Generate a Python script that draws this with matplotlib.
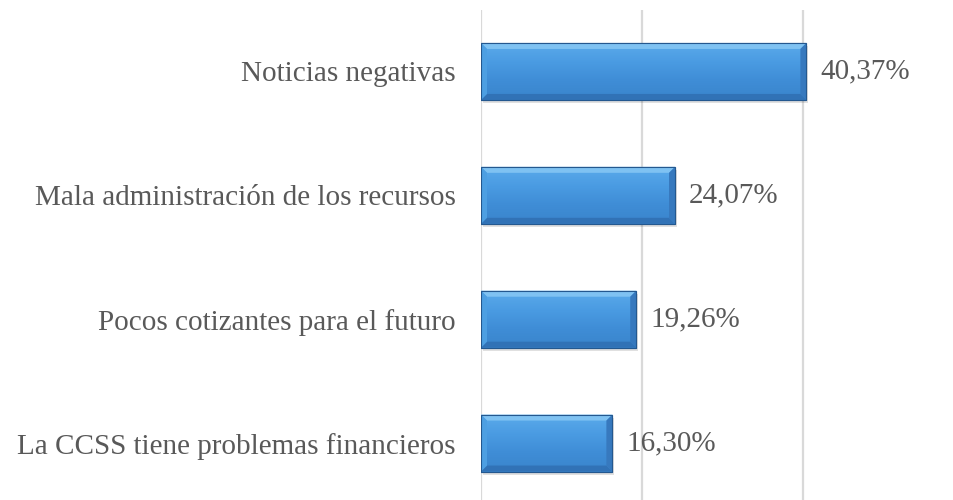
import numpy as np
import matplotlib.pyplot as plt
from matplotlib.patches import Polygon, Rectangle

# datos (orden de arriba hacia abajo)
categorias = [
    "Noticias negativas",
    "Mala administración de los recursos",
    "Pocos cotizantes para el futuro",
    "La CCSS tiene problemas financieros",
]
valores = [40.37, 24.07, 19.26, 16.30]

plt.rcParams['font.family'] = ['Liberation Serif', 'DejaVu Serif']
gris_texto = '#595959'

fig = plt.figure(figsize=(9.54, 5.0), dpi=100)
ax = fig.add_axes([481 / 954, -0.01, 1 - 481 / 954, 0.991])

y = np.arange(len(categorias))
bars = ax.barh(y, valores, height=0.46, color='#4595dc', edgecolor='#24588f',
               linewidth=0.8, zorder=3)

ax.set_xlim(0, (954 - 481) / 8.06)
ax.set_ylim(len(categorias) - 0.5, -0.5)
ax.set_xticks([0, 20, 40])
ax.set_xticklabels([])
ax.set_yticks(y)
ax.set_yticklabels(categorias, fontsize=21, color=gris_texto)
ax.tick_params(axis='both', length=0, pad=18)
ax.grid(axis='x', color='#d9d9d9', linewidth=1.6, zorder=0)
for s in ax.spines.values():
    s.set_visible(False)

# escala pixeles -> datos
fig.canvas.draw()
inv = ax.transData.inverted()
p0 = inv.transform((0, 0))
p1 = inv.transform((1, 1))
px_x = abs(p1[0] - p0[0])
px_y = abs(p1[1] - p0[1])

grad = np.linspace(0, 1, 64)[:, None]
cmap = plt.matplotlib.colors.LinearSegmentedColormap.from_list(
    'azul', ['#5aaaea', '#4a9be2', '#3f8dd6', '#3a85cc'])

for b in bars:
    x0 = b.get_x()
    x1 = x0 + b.get_width()
    yt = b.get_y()
    yb = yt + b.get_height()
    bx = 6 * px_x
    by = 6 * px_y

    # sombra
    ax.add_patch(Rectangle((x0 + 2 * px_x, yt + 3 * px_y), x1 - x0, yb - yt,
                           facecolor='#000000', alpha=0.12, edgecolor='none',
                           zorder=2))

    im = ax.imshow(grad, extent=(x0, x1, yb, yt), cmap=cmap, aspect='auto',
                   zorder=3.1, interpolation='bilinear')
    im.set_clip_path(b)

    caras = [
        ([(x0, yt), (x1, yt), (x1 - bx, yt + by), (x0 + bx, yt + by)], '#7fc2f2'),
        ([(x0, yb), (x1, yb), (x1 - bx, yb - by), (x0 + bx, yb - by)], '#3172b6'),
        ([(x0, yt), (x0 + bx, yt + by), (x0 + bx, yb - by), (x0, yb)], '#4d9fe2'),
        ([(x1, yt), (x1 - bx, yt + by), (x1 - bx, yb - by), (x1, yb)], '#3779be'),
    ]
    for pts, c in caras:
        ax.add_patch(Polygon(pts, closed=True, facecolor=c, edgecolor='none',
                             zorder=3.2))
    ax.add_patch(Rectangle((x0, yt), x1 - x0, yb - yt, facecolor='none',
                           edgecolor='#24588f', linewidth=0.8, zorder=3.3))

ax.set_xlim(0, (954 - 481) / 8.06)
ax.set_ylim(len(categorias) - 0.5, -0.5)

for yi, v in zip(y, valores):
    etiqueta = f"{v:.2f}".replace('.', ',') + '%'
    ax.text(v + 14 * px_x, yi, etiqueta, ha='left', va='center',
            fontsize=21, color=gris_texto, zorder=4)

fig.savefig('out.png', dpi=100)
